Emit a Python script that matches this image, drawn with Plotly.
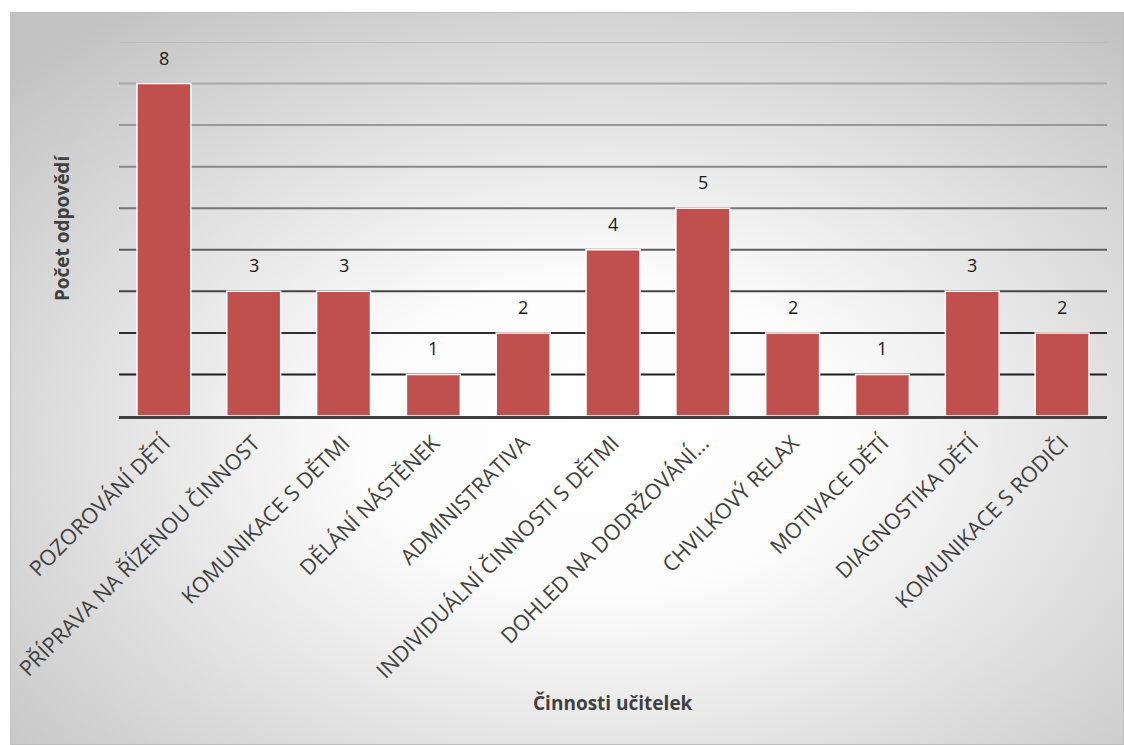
import base64
import plotly.graph_objects as go

categories = [
    "POZOROVÁNÍ DĚTÍ",
    "PŘÍPRAVA NA ŘÍZENOU ČINNOST",
    "KOMUNIKACE S DĚTMI",
    "DĚLÁNÍ NÁSTĚNEK",
    "ADMINISTRATIVA",
    "INDIVIDUÁLNÍ ČINNOSTI S DĚTMI",
    "DOHLED NA DODRŽOVÁNÍ…",
    "CHVILKOVÝ RELAX",
    "MOTIVACE DĚTÍ",
    "DIAGNOSTIKA DĚTÍ",
    "KOMUNIKACE S RODIČI",
]
values = [8, 3, 3, 1, 2, 4, 5, 2, 1, 3, 2]
grid_values = [1, 2, 3, 4, 5, 6, 7, 8, 9]
grid_colors = ["#1e1e1e", "#2e2e2e", "#444444", "#5e5e5e", "#747474",
               "#888888", "#989898", "#a8a8a8", "#bcbcbc"]

W, H = 1124, 745
L, R, T, B = 117, 17, 42, 329
pw, ph = W - L - R, H - T - B

svg = f'''<svg xmlns="http://www.w3.org/2000/svg" width="1116" height="733" viewBox="0 0 1116 733" preserveAspectRatio="none">
<defs><radialGradient id="g" cx="0.53" cy="0.58" r="0.72">
<stop offset="0" stop-color="#ffffff"/>
<stop offset="0.3" stop-color="#fcfcfc"/>
<stop offset="1" stop-color="#c3c3c3"/>
</radialGradient></defs>
<rect x="0" y="0" width="1116" height="733" fill="url(#g)" stroke="#bdbdbd" stroke-width="2"/>
</svg>'''
src = "data:image/svg+xml;base64," + base64.b64encode(svg.encode()).decode()

fig = go.Figure()
fig.add_trace(go.Bar(
    x=categories, y=values,
    marker=dict(color="#C0504D", line=dict(color="#ffffff", width=1.5)),
    hoverinfo="skip",
))

def px_to_paper_x(px):
    return (px - L) / pw

def px_to_paper_y(py):
    return (H - B - py) / ph

fig.add_layout_image(dict(
    source=src, xref="paper", yref="paper",
    x=px_to_paper_x(8), y=px_to_paper_y(12),
    sizex=1116 / pw, sizey=733 / ph,
    xanchor="left", yanchor="top", sizing="stretch", layer="below",
))

for gv, gc in zip(grid_values, grid_colors):
    fig.add_shape(type="line", xref="paper", yref="y", x0=0, x1=1, y0=gv, y1=gv,
                  line=dict(color=gc, width=2), layer="below")

for c, v in zip(categories, values):
    fig.add_annotation(x=c, y=v, text=str(v), showarrow=False, yshift=26,
                       font=dict(family="Open Sans", size=18, color="#1a1a1a"))

fig.add_annotation(xref="paper", yref="paper", x=px_to_paper_x(60), y=px_to_paper_y(228),
                   xanchor="center", yanchor="middle",
                   text="<b>Počet odpovědí</b>", textangle=-90, showarrow=False,
                   font=dict(family="Open Sans", size=19, color="#404040"))
fig.add_annotation(xref="paper", yref="paper", x=px_to_paper_x(612), y=px_to_paper_y(703),
                   xanchor="center", yanchor="middle",
                   text="<b>Činnosti učitelek</b>", showarrow=False,
                   font=dict(family="Open Sans", size=19, color="#404040"))

fig.update_layout(
    width=W, height=H,
    margin=dict(l=L, r=R, t=T, b=B, pad=0),
    paper_bgcolor="#ffffff", plot_bgcolor="rgba(0,0,0,0)",
    bargap=0.4, showlegend=False,
    font=dict(family="Open Sans", color="#404040"),
    xaxis=dict(showline=True, linecolor="#404040", linewidth=3, showgrid=False,
               tickangle=-45, tickfont=dict(family="Open Sans", size=21.5, color="#404040"),
               ticks="", ticklabelstandoff=3, fixedrange=True),
    yaxis=dict(range=[0, 9], showticklabels=False, showgrid=False, zeroline=False,
               showline=False, ticks="", fixedrange=True),
)

fig.write_html("out.html")
